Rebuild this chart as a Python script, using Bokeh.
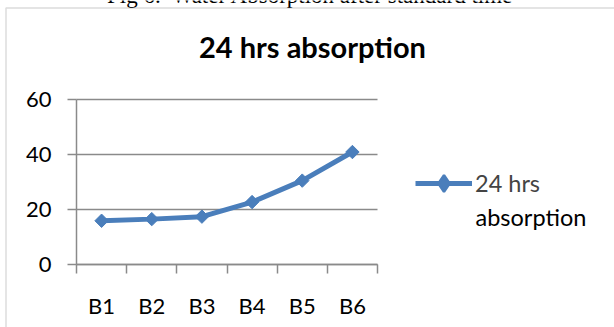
import math

from bokeh.plotting import figure
from bokeh.models import (Range1d, FixedTicker, LinearAxis, Label,
                          Legend, LegendItem, BoxAnnotation)
from bokeh.embed import file_html
from bokeh.resources import INLINE

# --- data -------------------------------------------------------------
categories = ["B1", "B2", "B3", "B4", "B5", "B6"]
absorption = [15.9, 16.5, 17.4, 22.7, 30.5, 40.9]
y_ticks = [0, 20, 40, 60]
chart_title = "24 hrs absorption"
legend_lines = ["24 hrs", "absorption"]
caption = "Fig 6.\u00a0 Water Absorption after standard time"

# --- style ------------------------------------------------------------
BLUE = "#4A7EBB"
GRAY = "#8A8A8A"
FONT = "Lato"
W, H = 614, 327

# plot area in page pixels: x 76..377, y(from top) 99..264
PX_L, PX_R, PX_T, PX_B = 76, 377, 99, 264
n = len(categories)
y_max = y_ticks[-1]
sx = (PX_R - PX_L) / n          # pixels per category
sy = (PX_B - PX_T) / y_max      # pixels per unit

# the frame fills the whole canvas; axes are pinned to data locations
x_range = Range1d(-PX_L / sx, (W - PX_L) / sx)
y_range = Range1d(-(H - PX_B) / sy, PX_B / sy)

x_pos = [i + 0.5 for i in range(n)]
x_bounds = list(range(n + 1))

p = figure(width=W, height=H, output_backend="svg", toolbar_location=None,
           x_range=x_range, y_range=y_range,
           x_axis_type=None, y_axis_type=None,
           min_border=0)
p.outline_line_color = None
p.background_fill_color = "white"
p.border_fill_color = "white"
p.xgrid.visible = False
p.ygrid.visible = False

# horizontal gridlines across the category span
p.segment(x0=[0] * len(y_ticks), x1=[n] * len(y_ticks), y0=y_ticks, y1=y_ticks,
          line_color=GRAY, line_width=1.5)

# value axis
yaxis = LinearAxis(ticker=FixedTicker(ticks=y_ticks, minor_ticks=[]),
                   fixed_location=0, bounds=(0, y_max))
yaxis.axis_line_color = GRAY
yaxis.axis_line_width = 1.5
yaxis.major_tick_line_color = GRAY
yaxis.major_tick_line_width = 1.5
yaxis.major_tick_out = 9
yaxis.major_tick_in = 0
yaxis.major_label_text_font = FONT
yaxis.major_label_text_font_size = "22px"
yaxis.major_label_text_color = "black"
yaxis.major_label_standoff = 16
p.add_layout(yaxis, "left")

# category axis: labels at the centres, tick marks at the boundaries
xaxis = LinearAxis(ticker=FixedTicker(ticks=x_pos, minor_ticks=x_bounds),
                   fixed_location=0, bounds=(0, n))
xaxis.major_label_overrides = {x: c for x, c in zip(x_pos, categories)}
xaxis.axis_line_color = GRAY
xaxis.axis_line_width = 1.5
xaxis.major_tick_line_color = None
xaxis.major_tick_out = 0
xaxis.major_tick_in = 0
xaxis.minor_tick_line_color = GRAY
xaxis.minor_tick_line_width = 1.5
xaxis.minor_tick_out = 9
xaxis.minor_tick_in = 0
xaxis.major_label_text_font = FONT
xaxis.major_label_text_font_size = "22px"
xaxis.major_label_text_color = "black"
xaxis.major_label_standoff = 18
p.add_layout(xaxis, "below")

# series
line_r = p.line(x_pos, absorption, line_width=5, line_color=BLUE)
mark_r = p.scatter(x_pos, absorption, marker="square", angle=math.pi / 4,
                   size=9.5, fill_color=BLUE, line_color=BLUE, line_width=1)
# diamond key for the legend (legend markers are drawn unrotated)
key_r = p.scatter(x_pos, absorption, marker="diamond", size=17,
                  fill_color=BLUE, line_color=BLUE, line_width=2.5, visible=False)

legend = Legend(items=[LegendItem(label=legend_lines[0], renderers=[line_r, key_r])],
                location=(415, 123), margin=0, padding=0, spacing=0,
                border_line_color=None, background_fill_alpha=0,
                glyph_width=57, glyph_height=42, label_standoff=3,
                label_text_font=FONT, label_text_font_size="23.5px")
p.add_layout(legend, "center")

# second line of the legend entry
p.add_layout(Label(x=475, y=H - 225 + 9, x_units="screen", y_units="screen",
                   text=legend_lines[1], text_align="left", text_baseline="alphabetic",
                   text_font=FONT, text_font_size="23.5px", text_color="black"))

# chart title
p.add_layout(Label(x=312, y=H - 57 + 11, x_units="screen", y_units="screen",
                   text=chart_title, text_align="center", text_baseline="alphabetic",
                   text_font=FONT, text_font_size="29px", text_font_style="bold",
                   text_color="black"))

# figure caption above the chart box
p.add_layout(Label(x=310, y=H - 4 + 9, x_units="screen", y_units="screen",
                   text=caption, text_align="center", text_baseline="alphabetic",
                   text_font="Liberation Serif", text_font_size="23px",
                   text_color="black"))

# chart area border
p.add_layout(BoxAnnotation(left=5.5, right=W + 100, top=H - 7.5, bottom=-100,
                           left_units="screen", right_units="screen",
                           top_units="screen", bottom_units="screen",
                           fill_alpha=0, line_color=GRAY, line_width=1.5))

open("out.html", "w").write(file_html(p, INLINE))
